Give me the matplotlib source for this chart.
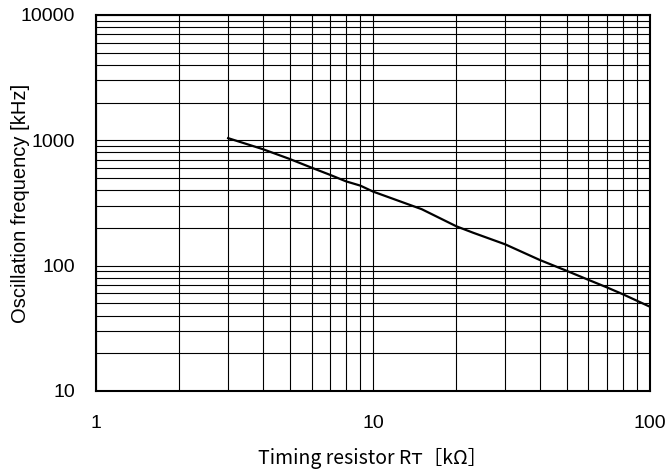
import numpy as np
from matplotlib import pyplot as plt
from matplotlib.ticker import LogLocator, FixedLocator, NullFormatter

# Oscillation frequency vs timing resistor
rt_kohm = [3, 4, 5, 6, 7, 8, 9, 10, 15, 20, 23, 30, 40, 50, 60, 70, 80, 100]
freq_khz = [1040, 850, 710, 605, 530, 470, 435, 390, 282, 206, 183, 148, 111, 91, 77, 67, 59, 47]

x_ticks = [1, 10, 100]
x_labels = ['1', '10', '100']
y_ticks = [10, 100, 1000, 10000]
y_labels = ['10', '100', '1000', '10000']

plt.rcParams['font.family'] = ['Liberation Sans', 'DejaVu Sans']

fig = plt.figure(figsize=(6.69, 4.73), dpi=100)
ax = fig.add_axes([0.1435, 0.1734, 0.828, 0.795])

ax.plot(rt_kohm, freq_khz, color='black', lw=1.6)

ax.set_xscale('log')
ax.set_yscale('log')
ax.set_xlim(1, 100)
ax.set_ylim(10, 10000)

ax.xaxis.set_major_locator(FixedLocator(x_ticks))
ax.set_xticklabels(x_labels)
ax.yaxis.set_major_locator(FixedLocator(y_ticks))
ax.set_yticklabels(y_labels)
ax.xaxis.set_minor_locator(LogLocator(base=10, subs=np.arange(2, 10)))
ax.yaxis.set_minor_locator(LogLocator(base=10, subs=np.arange(2, 10)))
ax.xaxis.set_minor_formatter(NullFormatter())
ax.yaxis.set_minor_formatter(NullFormatter())

ax.grid(True, which='both', color='black', lw=0.8)
ax.tick_params(which='both', length=0, labelsize=14)
ax.tick_params(axis='x', pad=17)
ax.tick_params(axis='y', pad=15)
for s in ax.spines.values():
    s.set_linewidth(1.5)

ax.set_ylabel('Oscillation frequency [kHz]', fontsize=14.5)
ax.yaxis.set_label_coords(-0.12, 0.5)
ax.set_xlabel('Timing resistor Rᴛ［kΩ］', fontsize=14, labelpad=12,
              family=['Noto Sans CJK JP', 'DejaVu Sans'])

fig.savefig('out.png', dpi=100)
